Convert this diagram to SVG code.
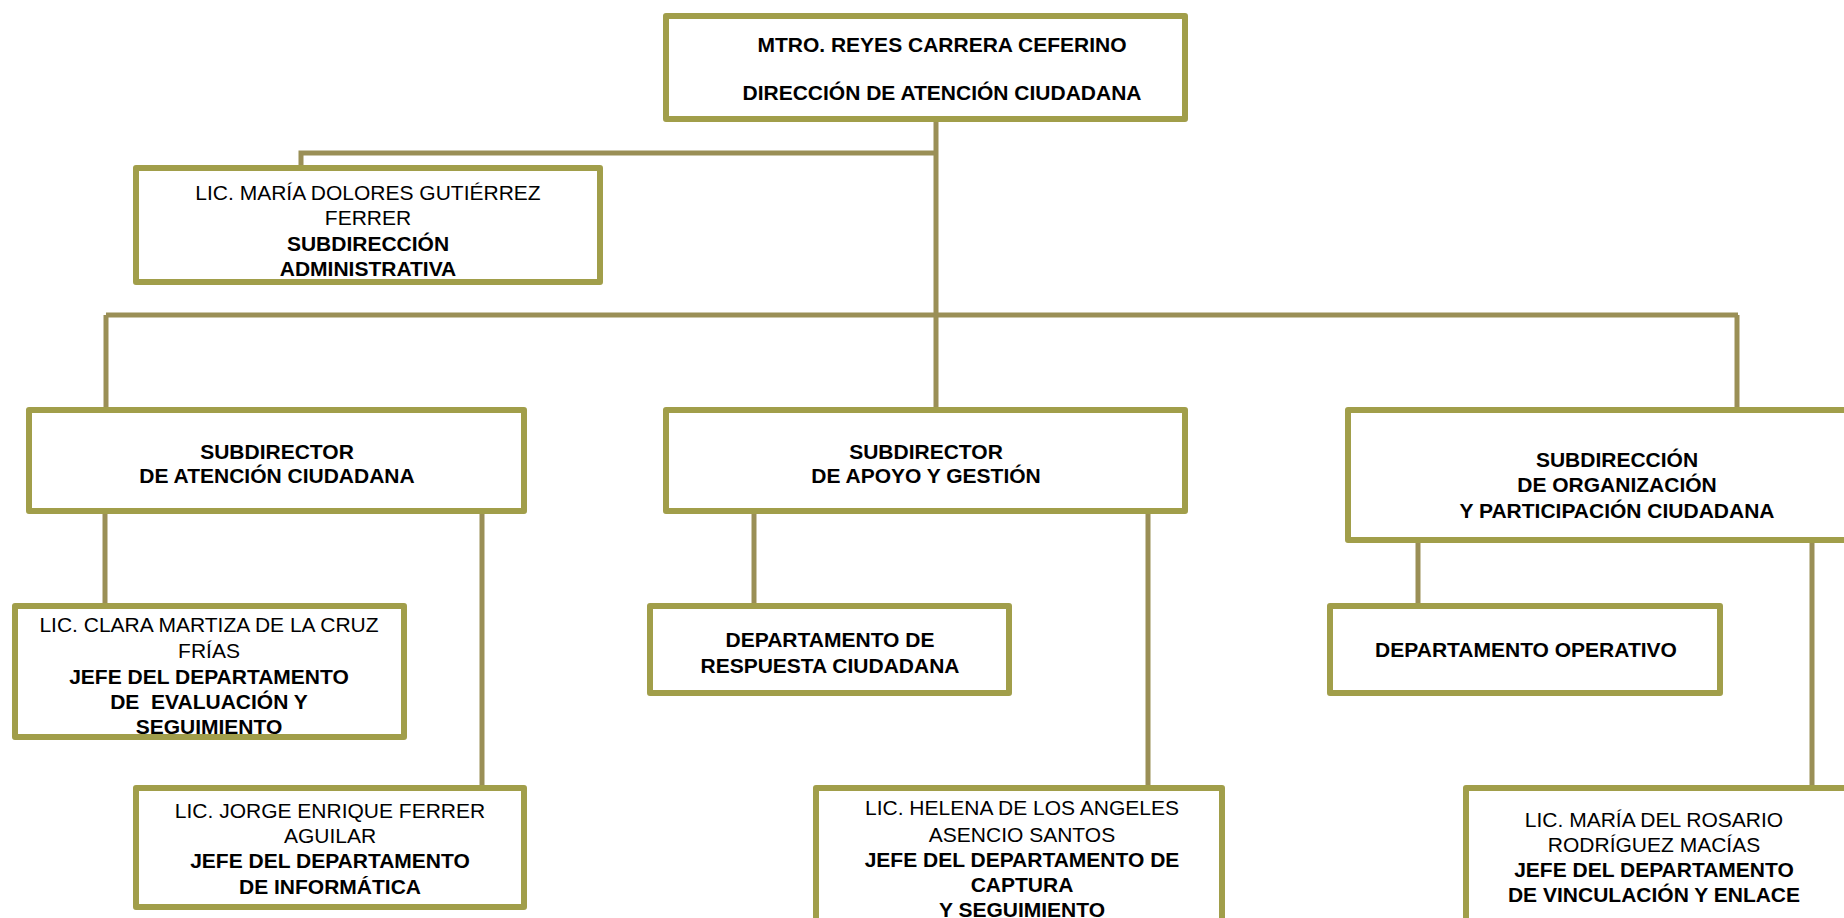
<svg xmlns="http://www.w3.org/2000/svg" width="1844" height="918" viewBox="0 0 1844 918">
<style>
.box{fill:#fff;stroke:#A19E4A;stroke-width:6;stroke-linejoin:round}
.con{fill:none;stroke:#9A8F56;stroke-width:5}
text{font-family:"Liberation Sans",Arial,sans-serif;font-size:21px;fill:#000;text-anchor:middle}
.b{font-weight:bold}
.pre{white-space:pre}
</style>
<rect width="1844" height="918" fill="#fff"/>
<g id="connectors">
<path class="con" d="M936,121 V407"/>
<path class="con" d="M936,153 H301 V166"/>
<path class="con" d="M106,315 H1738"/>
<path class="con" d="M106,315 V407"/>
<path class="con" d="M1737,315 V407"/>
<path class="con" d="M105,514 V604"/>
<path class="con" d="M482,514 V786"/>
<path class="con" d="M754,514 V604"/>
<path class="con" d="M1148,514 V786"/>
<path class="con" d="M1418,543 V604"/>
<path class="con" d="M1812,543 V786"/>
</g>
<g id="n-direccion">
<rect class="box" x="666" y="16" width="519" height="103"/>
<text class="b" x="942" y="52">MTRO. REYES CARRERA CEFERINO</text>
<text class="b" x="942" y="100">DIRECCIÓN DE ATENCIÓN CIUDADANA</text>
</g>
<g id="n-admin">
<rect class="box" x="136" y="168" width="464" height="114"/>
<text x="368" y="200">LIC. MARÍA DOLORES GUTIÉRREZ</text>
<text x="368" y="225">FERRER</text>
<text class="b" x="368" y="251">SUBDIRECCIÓN</text>
<text class="b" x="368" y="276">ADMINISTRATIVA</text>
</g>
<g id="n-sub1">
<rect class="box" x="29" y="410" width="495" height="101"/>
<text class="b" x="277" y="459">SUBDIRECTOR</text>
<text class="b" x="277" y="483">DE ATENCIÓN CIUDADANA</text>
</g>
<g id="n-sub2">
<rect class="box" x="666" y="410" width="519" height="101"/>
<text class="b" x="926" y="459">SUBDIRECTOR</text>
<text class="b" x="926" y="483">DE APOYO Y GESTIÓN</text>
</g>
<g id="n-sub3">
<rect class="box" x="1348" y="410" width="540" height="130"/>
<text class="b" x="1617" y="467">SUBDIRECCIÓN</text>
<text class="b" x="1617" y="492">DE ORGANIZACIÓN</text>
<text class="b" x="1617" y="518">Y PARTICIPACIÓN CIUDADANA</text>
</g>
<g id="n-clara">
<rect class="box" x="15" y="606" width="389" height="131"/>
<text x="209" y="632">LIC. CLARA MARTIZA DE LA CRUZ</text>
<text x="209" y="658">FRÍAS</text>
<text class="b" x="209" y="684">JEFE DEL DEPARTAMENTO</text>
<text class="b pre" x="209" y="709">DE  EVALUACIÓN Y</text>
<text class="b" x="209" y="734">SEGUIMIENTO</text>
</g>
<g id="n-respuesta">
<rect class="box" x="650" y="606" width="359" height="87"/>
<text class="b" x="830" y="647">DEPARTAMENTO DE</text>
<text class="b" x="830" y="673">RESPUESTA CIUDADANA</text>
</g>
<g id="n-operativo">
<rect class="box" x="1330" y="606" width="390" height="87"/>
<text class="b" x="1526" y="657">DEPARTAMENTO OPERATIVO</text>
</g>
<g id="n-jorge">
<rect class="box" x="136" y="788" width="388" height="119"/>
<text x="330" y="818">LIC. JORGE ENRIQUE FERRER</text>
<text x="330" y="843">AGUILAR</text>
<text class="b" x="330" y="868">JEFE DEL DEPARTAMENTO</text>
<text class="b" x="330" y="894">DE INFORMÁTICA</text>
</g>
<g id="n-helena">
<rect class="box" x="816" y="788" width="406" height="140"/>
<text x="1022" y="815">LIC. HELENA DE LOS ANGELES</text>
<text x="1022" y="842">ASENCIO SANTOS</text>
<text class="b" x="1022" y="867">JEFE DEL DEPARTAMENTO DE</text>
<text class="b" x="1022" y="892">CAPTURA</text>
<text class="b" x="1022" y="917">Y SEGUIMIENTO</text>
</g>
<g id="n-maria">
<rect class="box" x="1466" y="788" width="385" height="140"/>
<text x="1654" y="827">LIC. MARÍA DEL ROSARIO</text>
<text x="1654" y="852">RODRÍGUEZ MACÍAS</text>
<text class="b" x="1654" y="877">JEFE DEL DEPARTAMENTO</text>
<text class="b" x="1654" y="902">DE VINCULACIÓN Y ENLACE</text>
</g>
</svg>
